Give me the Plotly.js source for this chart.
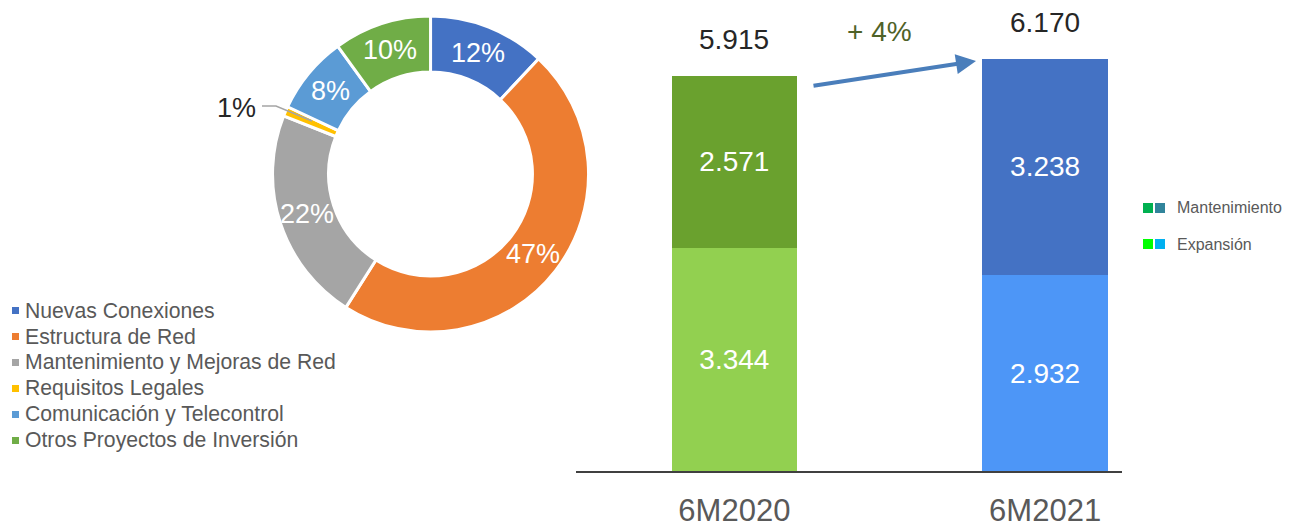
<!DOCTYPE html>
<html><head><meta charset="utf-8">
<script src="https://cdn.plot.ly/plotly-3.0.1.min.js"></script>
<style>html,body{margin:0;padding:0;background:#fff}#chart{width:1297px;height:527px}</style>
</head><body><div id="chart"></div>
<script>
// Donut data
const pieLabels = ["Nuevas Conexiones","Estructura de Red","Mantenimiento y Mejoras de Red","Requisitos Legales","Comunicación y Telecontrol","Otros Proyectos de Inversión"];
const pieValues = [12, 47, 22, 1, 8, 10];
const pieColors = ["#4472C4","#ED7D31","#A5A5A5","#FFC000","#5B9BD5","#70AD47"];

// Stacked bars data
const periods = ["6M2020","6M2021"];
const expansion = [3344, 2932];
const mantenimiento = [2571, 3238];
const expansionColors = ["#92D050","#4D96F7"];
const mantenimientoColors = ["#6AA12E","#4472C4"];
const growthLabel = "+ 4%";

// Right legend keys
const keyNames = ["Mantenimiento","Expansión"];
const keyColors = [["#00B050","#31849B"],["#00FF00","#00B0F0"]];

const totals = periods.map((p,i)=>expansion[i]+mantenimiento[i]);

const W = 1297, H = 527;
const font = "Liberation Sans, Arial, sans-serif";
const px = x => x / W, py = y => (H - y) / H;

const pieDomain = {x: [0.2101, 0.4538], y: [0.370, 0.9696]};
const holeFrac = 0.645;

const pieTrace = {
  type: "pie", labels: pieLabels, values: pieValues, sort: false,
  direction: "clockwise", rotation: 0, hole: holeFrac,
  marker: {colors: pieColors, line: {color: "#ffffff", width: 3}},
  textinfo: "none", hoverinfo: "label+percent",
  domain: pieDomain, automargin: false, showlegend: false
};

const barCommon = {
  type: "bar", x: periods, width: 0.404,
  texttemplate: "%{y:,}", textposition: "inside", insidetextanchor: "middle",
  textfont: {color: "#ffffff", size: 28, family: font},
  xaxis: "x", yaxis: "y", showlegend: false
};
const barExp = Object.assign({}, barCommon, {y: expansion, name: "Expansión", marker: {color: expansionColors}});
const barMan = Object.assign({}, barCommon, {y: mantenimiento, name: "Mantenimiento", marker: {color: mantenimientoColors}});

const annotations = [];
const shapes = [];

// Donut percentage labels at mid-angle / mid-ring of each slice
const cx = (pieDomain.x[0] + pieDomain.x[1]) / 2 * W;
const cy = H - (pieDomain.y[0] + pieDomain.y[1]) / 2 * H;
const rOut = Math.min((pieDomain.x[1]-pieDomain.x[0]) * W, (pieDomain.y[1]-pieDomain.y[0]) * H) / 2;
const rMid = rOut * (1 + holeFrac) / 2;
const sum = pieValues.reduce((a,b)=>a+b,0);
let cum = 0;
pieValues.forEach((v, i) => {
  const ang = (cum + v/2) / sum * 2 * Math.PI;
  cum += v;
  if (v < 3) return;
  annotations.push({xref:"paper", yref:"paper", xanchor:"center", yanchor:"middle",
    x: px(cx + rMid*Math.sin(ang)), y: py(cy - rMid*Math.cos(ang)),
    text: v + "%", showarrow:false, font:{size:27, color:"#ffffff", family:font}});
});
// small slice label with leader line
annotations.push({xref:"paper", yref:"paper", xanchor:"center", yanchor:"middle",
  x: px(236), y: py(108), text: pieValues[3] + "%", showarrow:false,
  font:{size:27, color:"#262626", family:font}});
shapes.push({type:"path", xref:"paper", yref:"paper",
  path:`M ${px(262)} ${py(106)} L ${px(276)} ${py(106)} L ${px(312)} ${py(121)}`,
  line:{color:"#A5A5A5", width:1.5}});

// Left legend (donut)
pieLabels.forEach((lab, i) => {
  const yc = 310 + i*26;
  shapes.push({type:"rect", xref:"paper", yref:"paper",
    x0: px(12), x1: px(19), y0: py(yc+4), y1: py(yc-3),
    fillcolor: pieColors[i], line:{width:0}});
  annotations.push({xref:"paper", yref:"paper", xanchor:"left", yanchor:"middle",
    x: px(23), y: py(yc), text: lab, showarrow:false,
    font:{size:21.2, color:"#595959", family:font}});
});

// Right legend (bars)
keyNames.forEach((name, i) => {
  const yc = 208 + i*36;
  keyColors[i].forEach((c, j) => {
    shapes.push({type:"rect", xref:"paper", yref:"paper",
      x0: px(1143 + j*12), x1: px(1153 + j*12), y0: py(yc+5), y1: py(yc-5),
      fillcolor: c, line:{width:0}});
  });
  annotations.push({xref:"paper", yref:"paper", xanchor:"left", yanchor:"middle",
    x: px(1175), y: py(yc), text: name, showarrow:false,
    font:{size:16, color:"#595959", family:font}});
});

// Bar totals
periods.forEach((p, i) => {
  annotations.push({xref:"x", yref:"y", x: p, y: totals[i], yanchor:"middle", xanchor:"center",
    yshift: 36, text: totals[i].toLocaleString("de-DE"), showarrow:false,
    font:{size:28, color:"#262626", family:font}});
});

// Growth label & arrow
annotations.push({xref:"paper", yref:"paper", xanchor:"center", yanchor:"middle",
  x: px(879), y: py(32), text: growthLabel, showarrow:false,
  font:{size:28, color:"#4F6228", family:font}});
annotations.push({xref:"paper", yref:"paper", x: px(976), y: py(61),
  ax: px(812), ay: py(86), axref:"paper", ayref:"paper",
  text:"", showarrow:true, arrowhead:2, arrowsize:1, arrowwidth:4, arrowcolor:"#4A7EBB"});

const layout = {
  width: W, height: H, margin: {l:0, r:0, t:0, b:0},
  paper_bgcolor: "#fff", plot_bgcolor: "rgba(0,0,0,0)",
  separators: ",.",
  barmode: "stack",
  font: {family: font},
  showlegend: false,
  xaxis: {
    domain: [0.4440, 0.865], range: [-0.51, 1.247], type: "category",
    showline: true, linecolor: "#404040", linewidth: 2, showgrid: false,
    zeroline: false, ticks: "", ticklabelstandoff: 11,
    tickfont: {size: 31, color: "#595959", family: font}, fixedrange: true
  },
  yaxis: {domain: [0.1063, 1], range: [0, 7050], visible: false, fixedrange: true},
  annotations: annotations,
  shapes: shapes
};

Plotly.newPlot("chart", [pieTrace, barExp, barMan], layout, {displayModeBar: false, staticPlot: true});
</script></body></html>
